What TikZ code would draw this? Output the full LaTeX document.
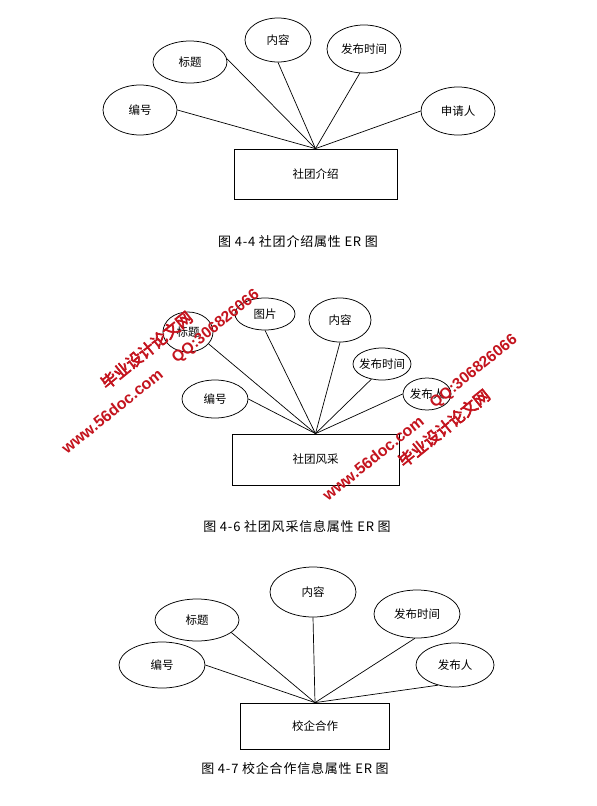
\documentclass[tikz,border=0pt]{standalone}
\usepackage{fontspec}
\setmainfont{Noto Sans CJK SC}
\newfontfamily\capfont[LetterSpace=6]{Noto Sans CJK SC}
\newfontfamily\wmcjk[FakeBold=4]{Noto Sans CJK SC}
\newfontfamily\wmlat{Liberation Sans}
\usetikzlibrary{shapes.geometric}
\definecolor{wmred}{RGB}{196,20,30}
\begin{document}
\begin{tikzpicture}[x=1pt,y=-1pt,
  attr/.style={ellipse,draw,line width=0.75pt,inner sep=0pt,fill=white,font=\fontsize{11.5}{11.5}\selectfont},
  ent/.style={rectangle,draw,line width=0.75pt,inner sep=0pt,font=\fontsize{11.5}{11.5}\selectfont},
  conn/.style={line width=0.7pt},
  captext/.style={font=\capfont\fontsize{13}{13}\selectfont,inner sep=0pt},
  wmc/.style={text=wmred,rotate=39,inner sep=0pt,font=\wmcjk\fontsize{16}{16}\selectfont},
  wml/.style={text=wmred,rotate=39,inner sep=0pt,font=\wmlat\bfseries\fontsize{16}{16}\selectfont}]
\useasboundingbox[fill=white] (0,0) rectangle (597,806);

% ---------- Diagram 1 ----------
\node[ent,minimum width=163,minimum height=50] (r1) at (315.5,174) {社团介绍};
\node[attr,minimum width=74,minimum height=50] (a1) at (140,110) {\makebox[0pt]{编号}};
\node[attr,minimum width=74,minimum height=42] (b1) at (190,62) {\makebox[0pt]{标题}};
\node[attr,minimum width=66,minimum height=44] (c1) at (278,40) {\makebox[0pt]{内容}};
\node[attr,minimum width=74,minimum height=48] (d1) at (364,49) {\makebox[0pt]{发布时间}};
\node[attr,minimum width=74,minimum height=48] (e1) at (458,111) {\makebox[0pt]{申请人}};
\draw[conn] (a1.east) -- (r1.north);
\draw[conn] (b1.5) -- (r1.north);
\draw[conn] (c1.south) -- (r1.north);
\draw[conn] (d1.-100) -- (r1.north);
\draw[conn] (e1.west) -- (r1.north);
\node[captext] (cap1) at (298,242) {图 4-4 社团介绍属性 ER 图};

% ---------- Diagram 2 ----------
\node[ent,minimum width=167,minimum height=51] (r2) at (315.5,459.5) {社团风采};
\node[attr,minimum width=50,minimum height=40] (t2) at (188,332) {\makebox[0pt]{标题}};
\node[attr,minimum width=60,minimum height=32] (p2) at (265,314) {\makebox[0pt]{图片}};
\node[attr,minimum width=62,minimum height=44] (c2) at (340,320) {\makebox[0pt]{内容}};
\node[attr,minimum width=58,minimum height=32] (d2) at (382,364) {\makebox[0pt]{发布时间}};
\node[attr,minimum width=48,minimum height=32] (f2) at (427,394) {\makebox[0pt]{发布人}};
\node[attr,minimum width=66,minimum height=38] (a2) at (215,399) {\makebox[0pt]{编号}};
\draw[conn] (t2.-30) -- (r2.north);
\draw[conn] (p2.south) -- (r2.north);
\draw[conn] (c2.south) -- (r2.north);
\draw[conn] (d2.-125) -- (r2.north);
\draw[conn] (f2.west) -- (r2.north);
\draw[conn] (a2.east) -- (r2.north);
\node[captext] (cap2) at (297,527) {图 4-6 社团风采信息属性 ER 图};

% ---------- Diagram 3 ----------
\node[ent,minimum width=149,minimum height=46] (r3) at (315,726) {校企合作};
\node[attr,minimum width=86,minimum height=50] (c3) at (313,592) {\makebox[0pt]{内容}};
\node[attr,minimum width=84,minimum height=42] (t3) at (197,620) {\makebox[0pt]{标题}};
\node[attr,minimum width=86,minimum height=48] (d3) at (417,614) {\makebox[0pt]{发布时间}};
\node[attr,minimum width=86,minimum height=46] (a3) at (162,665) {\makebox[0pt]{编号}};
\node[attr,minimum width=78,minimum height=44] (f3) at (455,665) {\makebox[0pt]{发布人}};
\draw[conn] (c3.south) -- (r3.north);
\draw[conn] (t3.-20) -- (r3.north);
\draw[conn] (d3.-95) -- (r3.north);
\draw[conn] (a3.east) -- (r3.north);
\draw[conn] (f3.-130) -- (r3.north);
\node[captext] (cap3) at (295,769) {图 4-7 校企合作信息属性 ER 图};

% ---------- Watermarks ----------
\node[wmc] (w1) at (146.5,350) {毕业设计论文网};
\node[wml] (w2) at (112,411) {www.56doc.com};
\node[wml,font=\wmlat\bfseries\fontsize{15.5}{15.5}\selectfont] (w3) at (216,327) {QQ:306826066};
\node[wml,font=\wmlat\bfseries\fontsize{15.5}{15.5}\selectfont] (w4) at (474,372) {QQ:306826066};
\node[wmc] (w5) at (444,428) {毕业设计论文网};
\node[wml] (w6) at (373,458) {www.56doc.com};
\end{tikzpicture}
\end{document}
